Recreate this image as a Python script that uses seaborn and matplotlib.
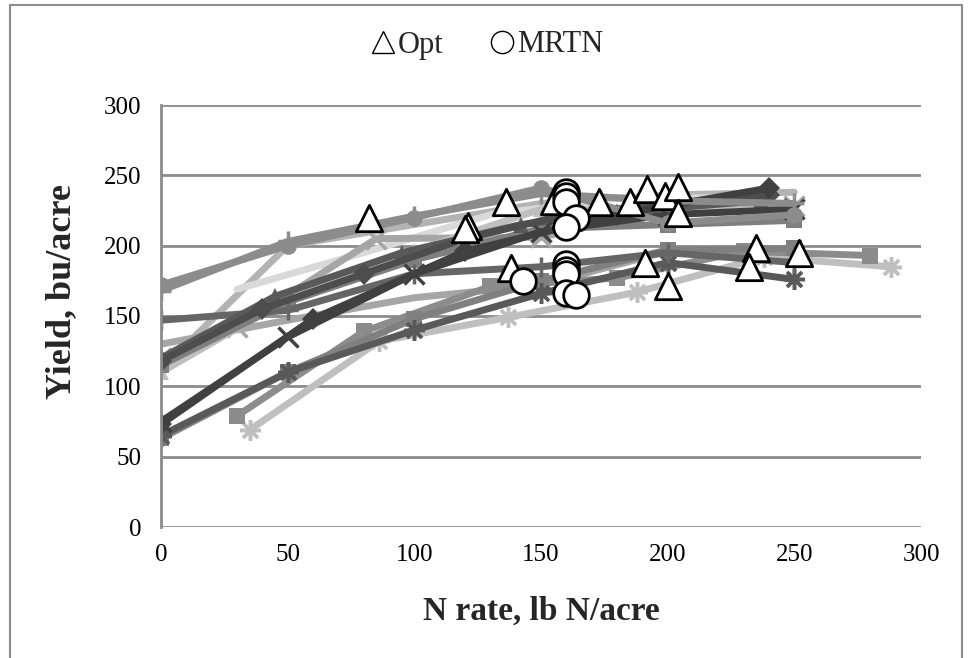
import matplotlib
matplotlib.use("Agg")
import matplotlib.pyplot as plt
import seaborn as sns
import numpy as np
from matplotlib.lines import Line2D

# ---------------- data ----------------
x_ticks = [0, 50, 100, 150, 200, 250, 300]
y_ticks = [0, 50, 100, 150, 200, 250, 300]

# yield-response curves (x = N rate, y = yield)
s1_x = [0, 50, 100, 150, 200, 250];      s1_y = [172, 200, 220, 241, 216, 222]
s2_x = [0, 50, 100, 150, 200, 250];      s2_y = [168, 203, 221, 237, 232, 230]
s3_x = [0, 50, 100, 150, 200, 250];      s3_y = [147, 154, 180, 185, 195, 188]
s4_x = [0, 60, 120, 180, 240];           s4_y = [73, 148, 196, 222, 241]
s5_x = [0, 40, 80, 120, 160, 200, 240];  s5_y = [118, 155, 180, 205, 222, 230, 236]
s6_x = [0, 50, 100, 150, 200, 250];      s6_y = [63, 110, 148, 175, 197, 198]
s7_x = [30, 80, 130, 180, 230, 280];     s7_y = [79, 139, 171, 177, 196, 193]
s8_x = [0, 50, 100, 150, 200, 250];      s8_y = [115, 160, 190, 212, 215, 218]
s9_x = [0, 50, 100, 150, 200, 250];      s9_y = [65, 110, 140, 166, 188, 176]
s10_x = [35, 86, 137, 188, 238, 288];    s10_y = [69, 132, 149, 167, 192, 185]
s11_x = [0, 50, 100, 150, 200, 250];     s11_y = [75, 135, 180, 210, 222, 226]
s12_x = [0, 30, 85, 150, 200, 250];      s12_y = [120, 142, 205, 206, 226, 228]
s13_x = [0, 50, 100, 150, 200, 250];     s13_y = [110, 162, 196, 226, 226, 225]
s14_x = [30, 80, 130, 180, 230];         s14_y = [169, 195, 222, 234, 234]
s15_x = [0, 50, 100, 150, 200, 250];     s15_y = [130, 147, 163, 172, 196, 195]
s16_x = [0, 50, 100, 150, 200, 250];     s16_y = [112, 200, 215, 230, 236, 238]
s17_x = [0, 45, 95, 142, 190, 237];      s17_y = [120, 164, 195, 215, 225, 232]

# economic optimum N rates and MRTN rates
opt_x = [82, 121, 120, 136, 138, 155, 173, 185, 192, 199, 204, 204, 191, 200, 235, 232, 252]
opt_y = [220, 214, 212, 231, 184, 232, 231, 231, 240, 235, 242, 223, 188, 171, 198, 185, 195]
mrtn_x = [143, 160, 160, 160, 164, 160, 160, 160, 160, 160, 164]
mrtn_y = [175, 238, 235, 231, 220, 213, 187, 183, 180, 166, 165]

ASTER = (8, 2, 0)
series = [
    (s16_x, s16_y, "#b3b3b3", None),
    (s15_x, s15_y, "#a6a6a6", None),
    (s14_x, s14_y, "#d9d9d9", None),
    (s12_x, s12_y, "#a6a6a6", "x"),
    (s13_x, s13_y, "#bfbfbf", "^"),
    (s8_x, s8_y, "#7f7f7f", "s"),
    (s10_x, s10_y, "#bfbfbf", ASTER),
    (s7_x, s7_y, "#8c8c8c", "s"),
    (s6_x, s6_y, "#808080", "s"),
    (s9_x, s9_y, "#595959", ASTER),
    (s3_x, s3_y, "#666666", "+"),
    (s17_x, s17_y, "#595959", "^"),
    (s11_x, s11_y, "#404040", "x"),
    (s5_x, s5_y, "#4d4d4d", "D"),
    (s4_x, s4_y, "#404040", "D"),
    (s2_x, s2_y, "#8c8c8c", "+"),
    (s1_x, s1_y, "#8c8c8c", "o"),
]

# ---------------- figure ----------------
sns.set_style("white")
plt.rcParams["font.family"] = ["Liberation Serif", "DejaVu Serif"]

fig = plt.figure(figsize=(9.71, 6.58), dpi=100)
ax = fig.add_axes([161 / 971, 1 - 527 / 658, 760 / 971, 422 / 658])

for xs, ys, col, mk in series:
    kw = dict(x=xs, y=ys, color=col, linewidth=5, ax=ax, legend=False, zorder=2)
    if mk is not None:
        thin = mk in ("x", "+", ASTER)
        ms = 15 if thin else (11 if mk == "D" else 12)
        kw.update(marker=mk, markersize=ms, markeredgewidth=2.5 if thin else 0,
                  markerfacecolor=col, markeredgecolor=col)
    sns.lineplot(**kw)

sns.scatterplot(x=opt_x, y=opt_y, marker="^", s=360, facecolor="white",
                edgecolor="black", linewidth=2, ax=ax, zorder=5)
sns.scatterplot(x=mrtn_x, y=mrtn_y, marker="o", s=340, facecolor="white",
                edgecolor="black", linewidth=2, ax=ax, zorder=6)

ax.set_xlim(0, 300)
ax.set_ylim(0, 300)
ax.set_xticks(x_ticks)
ax.set_yticks(y_ticks)
ax.tick_params(axis="both", length=0, labelsize=18, colors="black")
ax.tick_params(axis="x", pad=12)
ax.tick_params(axis="y", pad=14)
ax.yaxis.grid(True, color="#8c8c8c", linewidth=2)
ax.xaxis.grid(False)
ax.set_axisbelow(True)
for side in ["top", "right", "bottom"]:
    ax.spines[side].set_visible(False)
ax.spines["left"].set_color("#8c8c8c")
ax.spines["left"].set_linewidth(2)

ax.set_xlabel("N rate, lb N/acre", fontsize=24, fontweight="bold", labelpad=22)
ax.set_ylabel("Yield, bu/acre", fontsize=26, fontweight="bold")
ax.yaxis.set_label_coords((78 - 161) / 760, (527 - 292) / 422)

handles = [
    Line2D([], [], linestyle="none", marker="^", markersize=16, markerfacecolor="white",
           markeredgecolor="black", markeredgewidth=1),
    Line2D([], [], linestyle="none", marker="o", markersize=16, markerfacecolor="white",
           markeredgecolor="black", markeredgewidth=1),
]
fig.legend(handles, ["Opt", "MRTN"], loc="center", bbox_to_anchor=(0.5, 1 - 45 / 658),
           ncol=2, frameon=False, fontsize=22, handletextpad=0.0, columnspacing=1.4,
           handlelength=1.0)

# chart-area border
fig.add_artist(Line2D([10 / 971, 962 / 971], [1 - 5 / 658, 1 - 5 / 658], color="#8c8c8c", lw=1.5))
fig.add_artist(Line2D([10 / 971, 10 / 971], [0, 1 - 5 / 658], color="#8c8c8c", lw=1.5))
fig.add_artist(Line2D([962 / 971, 962 / 971], [0, 1 - 5 / 658], color="#8c8c8c", lw=1.5))

fig.savefig("out.png", dpi=100)
